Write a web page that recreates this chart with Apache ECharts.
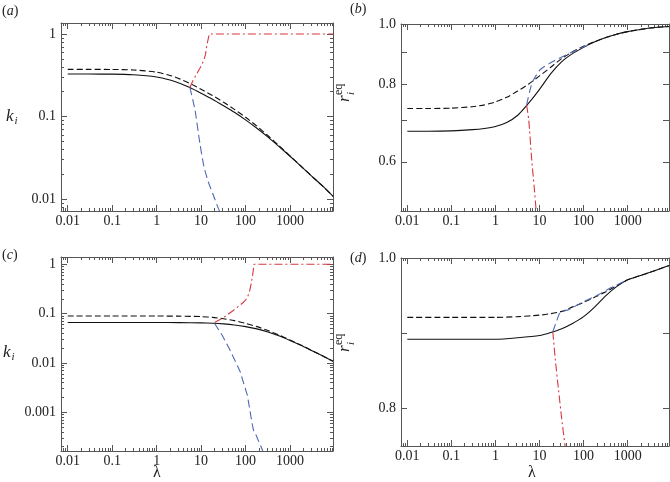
<!DOCTYPE html>
<html><head><meta charset="utf-8">
<script src="https://cdn.jsdelivr.net/npm/echarts@6/dist/echarts.min.js"></script>
<style>html,body{margin:0;padding:0;background:#fff}#c{width:670px;height:482px}</style>
</head><body><div id="c"></div>
<script>
// ---- tick labels ----
const lambdaTicks = [0.01, 0.1, 1, 10, 100, 1000];
const kTicksA = [0.01, 0.1, 1];
const kTicksC = [0.001, 0.01, 0.1, 1];
const rTicksB = [0.6, 0.7, 0.8, 0.9, 1.0];
const rLabelsB = [0.6, 0.8, 1.0];
const rTicksD = [0.8, 0.9, 1.0];
const rLabelsD = [0.8, 1.0];

// ---- panel (a): k_i vs lambda ----
const aSolid = [[0.01,0.327],[0.03,0.327],[0.1,0.3265],[0.3,0.321],[1,0.302],[2,0.277],[3.4,0.252],[5.6,0.225],[10,0.192],[18,0.162],[32,0.135],[56,0.1125],[100,0.091],[180,0.072],[320,0.0563],[560,0.0435],[1000,0.033],[1800,0.0247],[3200,0.0186],[5600,0.0141],[9300,0.0108]];
const aDashed = [[0.01,0.373],[0.03,0.373],[0.1,0.372],[0.3,0.367],[1,0.345],[2,0.315],[3.4,0.284],[5.6,0.252],[10,0.214],[18,0.18],[32,0.149],[56,0.122],[100,0.098],[180,0.0765],[320,0.0585],[560,0.0445],[1000,0.0334],[1800,0.0248],[3200,0.0186],[5600,0.0141],[9300,0.0108]];
const aBlue = [[5.6,0.225],[7.3,0.12],[9.4,0.047],[11.6,0.0247],[14.5,0.0162],[18.8,0.0112],[24.4,0.0077],[27,0.0068]];
const aRed = [[5.6,0.225],[6.5,0.27],[8,0.33],[9.4,0.384],[11.6,0.484],[12.6,0.57],[13.3,0.70],[14.3,0.85],[15.3,1.0],[9300,1.0]];

// ---- panel (b): r_i^eq vs lambda ----
const bSolid = [[0.01,0.672],[0.03,0.672],[0.1,0.673],[0.3,0.676],[0.56,0.679],[1,0.684],[1.8,0.694],[3.2,0.713],[5.6,0.745],[10,0.785],[18,0.832],[32,0.87],[56,0.896],[100,0.917],[180,0.936],[320,0.951],[560,0.963],[1000,0.972],[1800,0.979],[3200,0.985],[5600,0.989],[8700,0.991]];
const bDashed = [[0.01,0.731],[0.03,0.731],[0.1,0.732],[0.3,0.736],[0.56,0.741],[1,0.749],[1.8,0.762],[3.2,0.78],[5.6,0.80],[10,0.825],[18,0.852],[32,0.88],[56,0.902],[100,0.921],[180,0.937],[320,0.951],[560,0.963],[1000,0.972],[1800,0.979],[3200,0.985],[5600,0.989],[8700,0.991]];
const bBlue = [[5.1,0.741],[6,0.78],[7,0.808],[10.3,0.844],[20,0.87],[49,0.898],[140,0.928]];
const bRed = [[5.1,0.741],[5.7,0.70],[6.65,0.604],[7.5,0.55],[8.4,0.5]];

// ---- panel (c): k_i vs lambda ----
const cSolid = [[0.01,0.066],[0.1,0.066],[1,0.066],[3.2,0.0658],[10,0.065],[18,0.064],[32,0.062],[56,0.059],[100,0.0545],[180,0.049],[320,0.0425],[560,0.0355],[1000,0.0285],[1800,0.0225],[3200,0.0175],[5600,0.0137],[9300,0.0108]];
const cDashed = [[0.01,0.0895],[0.1,0.0895],[1,0.0893],[3.2,0.0888],[10,0.087],[18,0.084],[32,0.079],[56,0.072],[100,0.0635],[180,0.0545],[320,0.0455],[560,0.037],[1000,0.0292],[1800,0.0228],[3200,0.0176],[5600,0.0137],[9300,0.0108]];
const cBlue = [[20,0.064],[30,0.036],[45,0.018],[75,0.0068],[110,0.0022],[140,0.0006],[152,0.00042],[165,0.00038],[200,0.00025],[245,0.000164]];
const cRed = [[20,0.066],[30,0.08],[53,0.116],[90,0.17],[110,0.21],[125,0.3],[135,0.42],[145,0.62],[155,1.0],[9300,1.0]];

// ---- panel (d): r_i^eq vs lambda ----
const dSolid = [[0.01,0.892],[0.1,0.892],[1,0.892],[3.2,0.894],[10,0.897],[18,0.901],[32,0.906],[56,0.913],[100,0.922],[180,0.935],[320,0.95],[560,0.962],[1000,0.971],[1800,0.976],[3200,0.981],[5600,0.986],[8700,0.99]];
const dDashed = [[0.01,0.921],[0.1,0.921],[1,0.921],[3.2,0.922],[10,0.924],[18,0.926],[32,0.929],[56,0.935],[100,0.941],[180,0.948],[320,0.955],[560,0.963],[1000,0.971],[1800,0.976],[3200,0.981],[5600,0.986],[8700,0.99]];
const dBlue = [[20,0.902],[25,0.918],[29,0.928],[45,0.931],[70,0.937],[100,0.942],[200,0.95],[400,0.96],[1000,0.971]];
const dRed = [[20,0.902],[22.8,0.865],[26.7,0.827],[32,0.785],[38,0.75]];

// ---- styling / layout ----
const FONT = '"Times New Roman", "Liberation Serif", serif';
const AXC = '#555';
const TXT = '#222';
const BLUE = '#4f69b3';
const RED = '#d6383f';

function minorLog(lo, hi) {
  const out = [];
  for (let e = lo; e <= hi; e++) for (let m = 2; m <= 9; m++) out.push(+(m * Math.pow(10, e)).toPrecision(3));
  return out;
}
const grids = [
  {left: 61, top: 23, width: 272, height: 188},
  {left: 401, top: 24, width: 268, height: 187},
  {left: 61, top: 257, width: 272, height: 194},
  {left: 401, top: 258, width: 268, height: 188}
];
const xRange = [[0.00706, 9270], [0.0072, 8650], [0.00706, 9270], [0.0072, 8650]];
const yCfg = [
  {type: 'log', min: 0.00716, max: 1.36, ticks: kTicksA, labels: kTicksA, minor: minorLog(-3, 0)},
  {type: 'log', min: 0.5, max: 1.0, ticks: rTicksB, labels: rLabelsB, minor: null, fmt: v => v.toFixed(1)},
  {type: 'log', min: 0.000164, max: 1.406, ticks: kTicksC, labels: kTicksC, minor: minorLog(-4, 0)},
  {type: 'value', min: 0.75, max: 1.0, ticks: rTicksD, labels: rLabelsD, minor: null, fmt: v => v.toFixed(1)}
];
const fmtNum = v => String(+v.toPrecision(6));

const xAxes = [], yAxes = [];
const xMinor = minorLog(-3, 3);
for (let p = 0; p < 4; p++) {
  const [mn, mx] = xRange[p];
  const base = {type: 'log', gridIndex: p, min: mn, max: mx, splitLine: {show: false}, minorTick: {show: false}};
  ['bottom', 'top'].forEach(pos => {
    xAxes.push(Object.assign({}, base, {
      position: pos,
      axisLine: {show: true, onZero: false, lineStyle: {color: AXC, width: 1}},
      axisTick: {show: true, inside: true, length: 6, customValues: lambdaTicks, lineStyle: {color: AXC}},
      axisLabel: pos === 'bottom' ? {show: true, customValues: lambdaTicks, formatter: fmtNum, margin: 3, fontFamily: FONT, fontSize: 14, color: TXT} : {show: false}
    }));
    xAxes.push(Object.assign({}, base, {
      position: pos,
      axisLine: {show: false, onZero: false},
      axisTick: {show: true, inside: true, length: 3, customValues: xMinor, lineStyle: {color: AXC}},
      axisLabel: {show: false}
    }));
  });
  const yc = yCfg[p];
  const ybase = {type: yc.type, gridIndex: p, min: yc.min, max: yc.max, splitLine: {show: false}, minorTick: {show: false}};
  ['left', 'right'].forEach(pos => {
    yAxes.push(Object.assign({}, ybase, {
      position: pos,
      axisLine: {show: true, onZero: false, lineStyle: {color: AXC, width: 1}},
      axisTick: {show: true, inside: true, length: 6, customValues: yc.ticks, lineStyle: {color: AXC}},
      axisLabel: pos === 'left' ? {show: true, customValues: yc.labels, formatter: yc.fmt || fmtNum, margin: 5, fontFamily: FONT, fontSize: 14, color: TXT} : {show: false}
    }));
    yAxes.push(Object.assign({}, ybase, {
      position: pos,
      axisLine: {show: false, onZero: false},
      axisTick: {show: !!yc.minor, inside: true, length: 3, customValues: yc.minor || yc.ticks, lineStyle: {color: AXC}},
      axisLabel: {show: false}
    }));
  });
}

function line(p, data, color, type, smooth) {
  return {
    type: 'line', xAxisIndex: 4 * p, yAxisIndex: 4 * p, data: data, showSymbol: false, symbol: 'none',
    smooth: smooth ? 0.2 : false,
    lineStyle: {color: color, width: 1.1, type: type}, silent: true, animation: false, z: 3
  };
}
const DASH = [6, 3];
const BDASH = [8, 4];
const DDOT = [8, 3, 2, 3];
const series = [
  line(0, aSolid, '#111', 'solid', true), line(0, aDashed, '#111', DASH, true), line(0, aBlue, BLUE, BDASH, true), line(0, aRed, RED, DDOT, false),
  line(1, bSolid, '#111', 'solid', true), line(1, bDashed, '#111', DASH, true), line(1, bBlue, BLUE, BDASH, true), line(1, bRed, RED, DDOT, true),
  line(2, cSolid, '#111', 'solid', true), line(2, cDashed, '#111', DASH, true), line(2, cBlue, BLUE, BDASH, false), line(2, cRed, RED, DDOT, false),
  line(3, dSolid, '#111', 'solid', true), line(3, dDashed, '#111', DASH, true), line(3, dBlue, BLUE, BDASH, false), line(3, dRed, RED, DDOT, true)
];

function t(x, y, text, rich, extra) {
  return Object.assign({type: 'text', x: x, y: y, silent: true,
    style: {text: text, rich: rich, fill: TXT, font: '14px ' + FONT, textAlign: 'left', textVerticalAlign: 'middle'}}, extra || {});
}
const panelRich = {i: {fontStyle: 'italic', fontFamily: FONT, fontSize: 14, fill: TXT}};
const kRich = {
  k: {fontStyle: 'italic', fontFamily: FONT, fontSize: 17, fill: TXT, lineHeight: 20, verticalAlign: 'middle'},
  s: {fontStyle: 'italic', fontFamily: FONT, fontSize: 11, fill: TXT, lineHeight: 11, verticalAlign: 'bottom', padding: [0, 0, 0, 1]}
};
function rLabel(cx, cy) {
  return {type: 'group', x: cx, y: cy, rotation: Math.PI / 2, silent: true, children: [
    {type: 'text', x: -12, y: 0, style: {text: 'r', font: 'italic 17px ' + FONT, fill: TXT, textVerticalAlign: 'middle'}},
    {type: 'text', x: -5, y: 6, style: {text: 'i', font: 'italic 11px ' + FONT, fill: TXT, textVerticalAlign: 'middle'}},
    {type: 'text', x: -5, y: -6, style: {text: 'eq', font: '12px ' + FONT, fill: TXT, textVerticalAlign: 'middle'}}
  ]};
}
const graphic = [
  t(2, 11, '({i|a})', panelRich),
  t(350, 9, '({i|b})', panelRich),
  t(2, 255, '({i|c})', panelRich),
  t(350, 258, '({i|d})', panelRich),
  t(6, 117, '{k|k}{s|i}', kRich),
  t(3, 353, '{k|k}{s|i}', kRich),
  rLabel(345, 90),
  rLabel(345, 340),
  t(157, 473, 'λ', null, {style: {text: 'λ', fill: TXT, font: '16px ' + FONT, textAlign: 'center', textVerticalAlign: 'middle'}}),
  t(532, 473, 'λ', null, {style: {text: 'λ', fill: TXT, font: '16px ' + FONT, textAlign: 'center', textVerticalAlign: 'middle'}})
];

const chart = echarts.init(document.getElementById('c'), null, {renderer: 'canvas'});
chart.setOption({
  animation: false,
  backgroundColor: '#fff',
  grid: grids,
  xAxis: xAxes,
  yAxis: yAxes,
  series: series,
  graphic: graphic
});
</script>
</body></html>
